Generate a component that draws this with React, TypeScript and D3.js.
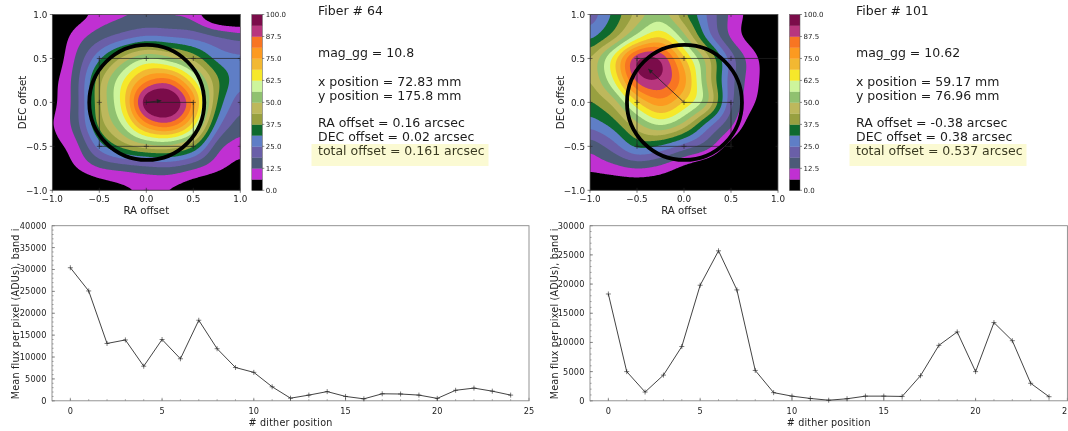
import React from "react";
import * as d3 from "d3";

const gridAxis = [-1, -0.75, -0.5, -0.25, 0, 0.25, 0.5, 0.75, 1];
// rows from DEC = +1 down to DEC = -1
const fieldFiber64 = [
  [-3, 2, 8, 11, 12, 11, 9, -6, -8],
  [-1, 9, 16, 21, 25, 24, 22.5, 19, 15.5],
  [0, 13, 30, 46, 57, 52, 42, 29, 26],
  [3.3, 15.5, 42, 62, 80, 84, 64, 39, 26],
  [3.9, 15.5, 43, 65, 100, 103, 80, 37, 20],
  [5, 15.5, 40, 57, 80, 86, 67, 28, 15],
  [3.7, 10, 28, 40, 47, 48, 38, 15, 9],
  [-2, 6, 12, 14, 16, 17, 13, 8, 3],
  [-8, -5, 0, 4, 6.5, 5, 0, -4, -5],
];
const fieldFiber101 = [
  [20, 32, 45, 52, 38, 24, 11, 3, -2],
  [28, 40, 58, 68, 52, 28, 11, 2, -2],
  [42, 65, 94, 94, 70, 47, 22, 8, -1],
  [42, 62, 90, 93, 78, 48, 21, 8, 0],
  [36, 46, 68, 79, 68, 52, 20, 6.5, -1],
  [27, 34, 48, 58, 48, 28, 14, 1, -3],
  [14, 22, 33, 30, 22, 15, 3, -3, -4],
  [7.5, 10, 12.5, 10, 4, 0, -3, -4, -4],
  [-2, -2, -1.5, -2, -3, -4, -4, -4, -4],
];
const levels = [0, 6.25, 12.5, 18.75, 25, 31.25, 37.5, 43.75, 50, 56.25, 62.5, 68.75, 75, 81.25, 87.5, 93.75, 100];
const levelColors = ["#000000", "#c030d2", "#4c5a78", "#6a5fa8", "#5f7ec6", "#0f6a2e", "#98a040", "#bdb85c", "#90c170", "#cdf59c", "#f6e82a", "#f2b832", "#fc9a20", "#f87522", "#b8367e", "#7b0c4a"];
const barTicks = [0, 12.5, 25, 37.5, 50, 62.5, 75, 87.5, 100];
const offsetTicks = [-1, -0.5, 0, 0.5, 1];

const ditherRa = [0, 0.5, 0.5, 0, -0.5, -0.5, -0.5, 0, 0.5, 1, 1, 1, 1, 0.5, 0, -0.5, -1, -1, -1, -1, -1, -0.5, 0, 0.5, 1];
const ditherDec = [0, 0, -0.5, -0.5, -0.5, 0, 0.5, 0.5, 0.5, 0.5, 0, -0.5, -1, -1, -1, -1, -1, -0.5, 0, 0.5, 1, 1, 1, 1, 1];

const positions = d3.range(25);
const fluxFiber64 = [30400, 25100, 13100, 13900, 7900, 14000, 9600, 18400, 11900, 7600, 6500, 3200, 600, 1300, 2100, 1000, 450, 1600, 1550, 1300, 550, 2400, 2900, 2200, 1300];
const fluxFiber101 = [18300, 5000, 1500, 4400, 9300, 19800, 25700, 19000, 5200, 1400, 800, 400, 100, 350, 800, 800, 750, 4300, 9500, 11800, 5000, 13400, 10300, 3000, 700];

const infoFiber64 = ["Fiber # 64", "mag_gg = 10.8", "x position = 72.83 mm", "y position = 175.8 mm", "RA offset = 0.16 arcsec", "DEC offset = 0.02 arcsec", "total offset = 0.161 arcsec"];
const infoFiber101 = ["Fiber # 101", "mag_gg = 10.62", "x position = 59.17 mm", "y position = 76.96 mm", "RA offset = -0.38 arcsec", "DEC offset = 0.38 arcsec", "total offset = 0.537 arcsec"];

const FONT = "'DejaVu Sans', sans-serif";
const INK = "#222";
const fmtMinus = (v: number, digits: number) => v.toFixed(digits).replace("-", "\u2212");

function upsample(grid: number[][], factor: number): { values: number[]; n: number } {
  const m = grid.length;
  const n = (m - 1) * factor + 1;
  const cr = (p0: number, p1: number, p2: number, p3: number, t: number) =>
    0.5 * (2 * p1 + (p2 - p0) * t + (2 * p0 - 5 * p1 + 4 * p2 - p3) * t * t + (3 * p1 - p0 - 3 * p2 + p3) * t * t * t);
  const at = (r: number, c: number) => {
    if (r < 0) return 2 * at(0, c) - at(-r, c);
    if (r > m - 1) return 2 * at(m - 1, c) - at(2 * (m - 1) - r, c);
    if (c < 0) return 2 * at(r, 0) - at(r, -c);
    if (c > m - 1) return 2 * at(r, m - 1) - at(r, 2 * (m - 1) - c);
    return grid[r][c];
  };
  const values: number[] = new Array(n * n);
  for (let j = 0; j < n; j++) {
    const fy = j / factor;
    const r = Math.min(m - 2, Math.floor(fy));
    const ty = fy - r;
    for (let i = 0; i < n; i++) {
      const fx = i / factor;
      const c = Math.min(m - 2, Math.floor(fx));
      const tx = fx - c;
      const col = [-1, 0, 1, 2].map((k) =>
        cr(at(r + k, c - 1), at(r + k, c), at(r + k, c + 1), at(r + k, c + 2), tx)
      );
      values[j * n + i] = cr(col[0], col[1], col[2], col[3], ty);
    }
  }
  d3.blur2({ data: values, width: n, height: n }, 5);
  return { values, n };
}

function OffsetMap({ id, field, x0, ra, dec }: { id: string; field: number[][]; x0: number; ra: number; dec: number }) {
  const W = 188, top = 14.5, bottom = 190.3;
  const x = d3.scaleLinear().domain([-1, 1]).range([x0, x0 + W]);
  const y = d3.scaleLinear().domain([-1, 1]).range([bottom, top]);
  const { values, n } = upsample(field, 24);
  const contours = d3.contours().size([n, n]).smooth(true).thresholds(levels.slice(1, -1))(values);
  const gx = d3.scaleLinear().domain([0.5, n - 0.5]).range([x0, x0 + W]);
  const gy = d3.scaleLinear().domain([0.5, n - 0.5]).range([top, bottom]);
  const proj = d3.geoTransform({
    point(this: any, a: number, b: number) {
      this.stream.point(gx(a), gy(b));
    },
  });
  const path = d3.geoPath(proj);
  const dither = d3.line<number>().x((i) => x(ditherRa[i])).y((i) => y(ditherDec[i]))(positions);
  const barX = x0 + 199.5, barW = 10.5;
  const barY = d3.scaleLinear().domain([0, 100]).range([bottom, top]);
  const ax = x(ra), ay = y(dec), ang = Math.atan2(ay - y(0), ax - x(0));
  const head = Math.hypot(ax - x(0), ay - y(0)) > 10 ? 5 : 3;
  const headPts = [ang + 2.7, ang - 2.7]
    .map((a) => `${ax + head * Math.cos(a)},${ay + head * Math.sin(a)}`)
    .join(" ");
  return (
    <g fontFamily={FONT}>
      <clipPath id={id}>
        <rect x={x0} y={top} width={W} height={bottom - top} />
      </clipPath>
      <rect x={x0} y={top} width={W} height={bottom - top} fill={levelColors[0]} />
      <g clipPath={`url(#${id})`}>
        {contours.map((c, i) => (
          <path key={i} d={path(c as any) ?? ""} fill={levelColors[i + 1]} />
        ))}
        <path d={dither ?? ""} fill="none" stroke="#222" strokeWidth={0.7} />
        {positions.map((i) => (
          <path
            key={i}
            d={`M${x(ditherRa[i]) - 2.5},${y(ditherDec[i])}h5M${x(ditherRa[i])},${y(ditherDec[i]) - 2.5}v5`}
            stroke="#222"
            strokeWidth={0.6}
          />
        ))}
        <line x1={x(0)} y1={y(0)} x2={ax} y2={ay} stroke="#222" strokeWidth={0.8} />
        <polygon points={`${ax},${ay} ${headPts}`} fill="#222" />
        <circle cx={x(0.005)} cy={y(0)} r={57.5} fill="none" stroke="#000" strokeWidth={3.8} />
      </g>
      <rect x={x0} y={top} width={W} height={bottom - top} fill="none" stroke="#555" strokeWidth={0.7} />
      {offsetTicks.map((t) => (
        <g key={t} fontSize={8.8} fill={INK}>
          <line x1={x(t)} x2={x(t)} y1={bottom} y2={bottom + 2.5} stroke={INK} strokeWidth={0.6} />
          <text x={x(t)} y={bottom + 11.2} textAnchor="middle">{fmtMinus(t, 1)}</text>
          <line x1={x0 - 2.5} x2={x0} y1={y(t)} y2={y(t)} stroke={INK} strokeWidth={0.6} />
          <text x={x0 - 5} y={y(t) + 3.2} textAnchor="end">{fmtMinus(t, 1)}</text>
        </g>
      ))}
      <text x={x0 + W / 2} y={214} textAnchor="middle" fontSize={10.2} fill={INK}>RA offset</text>
      <text transform={`translate(${x0 - 26},${(top + bottom) / 2}) rotate(-90)`} textAnchor="middle" fontSize={10.2} fill={INK}>DEC offset</text>
      {levelColors.map((c, i) => (
        <rect key={i} x={barX} width={barW} y={barY(levels[i + 1])} height={barY(levels[i]) - barY(levels[i + 1]) + 0.3} fill={c} />
      ))}
      <rect x={barX} y={top} width={barW} height={bottom - top} fill="none" stroke="#555" strokeWidth={0.5} />
      {barTicks.map((t) => (
        <g key={t}>
          <line x1={barX + barW} x2={barX + barW + 2} y1={barY(t)} y2={barY(t)} stroke={INK} strokeWidth={0.5} />
          <text x={barX + barW + 3.5} y={barY(t) + 2.5} fontSize={7} fill={INK}>{t.toFixed(1)}</text>
        </g>
      ))}
    </g>
  );
}

function InfoBlock({ x, lines }: { x: number; lines: string[] }) {
  const ys = [15, 57, 86, 100, 127, 141, 155];
  return (
    <g fontFamily={FONT} fontSize={12.5} fill="#1c1c1c">
      <rect x={x - 6.5} y={144} width={177} height={22} fill="#fbfad3" />
      {lines.map((t, i) => (
        <text key={i} x={x} y={ys[i]} fill={i === 6 ? "#3a3a22" : undefined}>{t}</text>
      ))}
    </g>
  );
}

function FluxChart({ values, x0, x1, yMax, labelX }: { values: number[]; x0: number; x1: number; yMax: number; labelX: number }) {
  const top = 225.7, bottom = 400.8;
  const x = d3.scaleLinear().domain([-1, 25]).range([x0, x1]);
  const y = d3.scaleLinear().domain([0, yMax]).range([bottom, top]);
  const line = d3.line<number>().x((_, i) => x(i)).y((v) => y(v))(values);
  const yMajor = d3.range(0, yMax + 1, 5000);
  const yMinor = d3.range(0, yMax + 1, 1000);
  const xMajor = d3.range(0, 26, 5);
  return (
    <g fontFamily={FONT}>
      {d3.range(0, 25).map((t) => (
        <line key={t} x1={x(t)} x2={x(t)} y1={bottom} y2={bottom - 1.5} stroke="#555" strokeWidth={0.6} />
      ))}
      {yMinor.map((t) => (
        <line key={t} x1={x0} x2={x0 + 1.5} y1={y(t)} y2={y(t)} stroke="#555" strokeWidth={0.6} />
      ))}
      {yMajor.map((t) => (
        <g key={t}>
          <line x1={x0} x2={x0 + 3} y1={y(t)} y2={y(t)} stroke="#555" strokeWidth={0.6} />
          <text x={x0 - 5.5} y={y(t) + 3} textAnchor="end" fontSize={8.2} letterSpacing={0.15} fill={INK}>{t}</text>
        </g>
      ))}
      {xMajor.map((t) => (
        <g key={t}>
          <line x1={x(t)} x2={x(t)} y1={bottom} y2={bottom - 3} stroke="#555" strokeWidth={0.6} />
          <text x={x(t)} y={414} textAnchor="middle" fontSize={8.2} letterSpacing={0.15} fill={INK}>{t}</text>
        </g>
      ))}
      <rect x={x0} y={top} width={x1 - x0} height={bottom - top} fill="none" stroke="#888" strokeWidth={0.9} />
      <path d={line ?? ""} fill="none" stroke="#444" strokeWidth={1} />
      {values.map((v, i) => (
        <path key={i} d={`M${x(i) - 2.5},${y(v)}h5M${x(i)},${y(v) - 2.5}v5`} stroke="#222" strokeWidth={0.6} />
      ))}
      <text x={(x0 + x1) / 2} y={425.5} textAnchor="middle" fontSize={9.6} letterSpacing={0.2} fill={INK}>{"# dither position"}</text>
      <text
        transform={`translate(${labelX},${(top + bottom) / 2 + 0.5}) rotate(-90)`}
        textAnchor="middle"
        fontSize={9.6}
        letterSpacing={0.2}
        fill={INK}
      >
        Mean flux per pixel (ADUs), band i
      </text>
    </g>
  );
}

export default function App() {
  return (
    <svg
      width={1068}
      height={431}
      viewBox="0 0 1068 431"
      style={{ position: "absolute", left: 0, top: 0, background: "#fff", filter: "blur(0.35px)" }}
    >
      <OffsetMap id="clipA" field={fieldFiber64} x0={52.3} ra={0.16} dec={0.02} />
      <OffsetMap id="clipB" field={fieldFiber101} x0={590} ra={-0.38} dec={0.38} />
      <InfoBlock x={318} lines={infoFiber64} />
      <InfoBlock x={856} lines={infoFiber101} />
      <FluxChart values={fluxFiber64} x0={52} x1={529} yMax={40000} labelX={18.5} />
      <FluxChart values={fluxFiber101} x0={590} x1={1067.4} yMax={30000} labelX={558} />
    </svg>
  );
}
